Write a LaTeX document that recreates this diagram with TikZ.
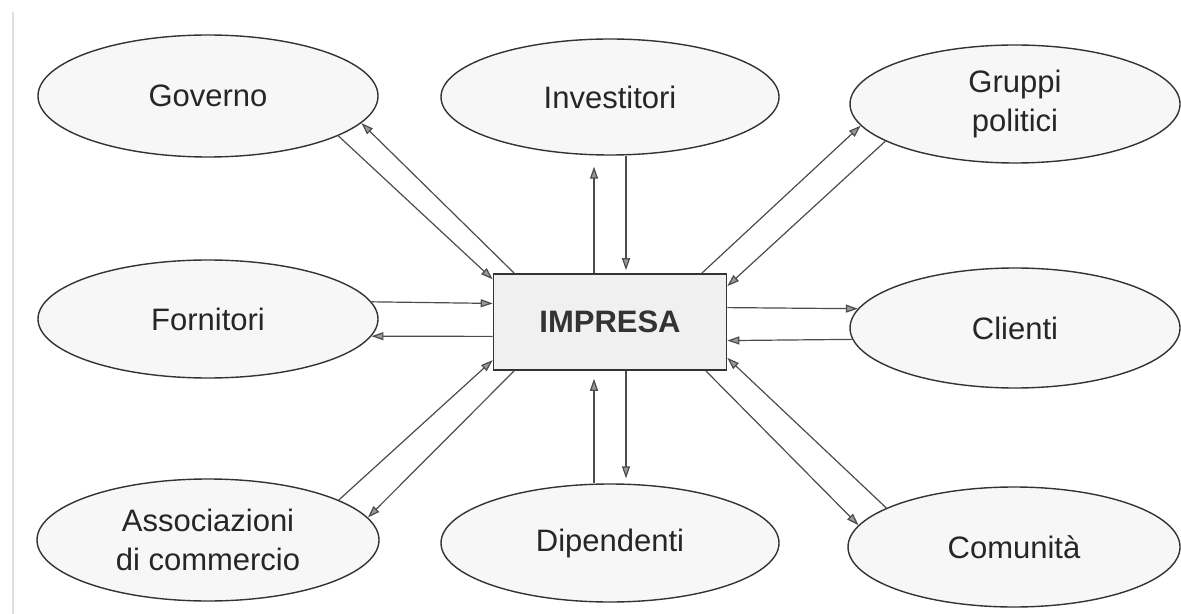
\documentclass[tikz,border=0pt]{standalone}
\usepackage{fontspec}
\setmainfont{Liberation Sans}
\usetikzlibrary{arrows.meta,shapes.geometric}
\begin{document}
\begin{tikzpicture}[x=0.5pt,y=-0.5pt,
  stake/.style={ellipse, draw=black!80, line width=0.7pt, fill=black!3,
    inner sep=0pt, align=center, text=black!85,
    font=\fontsize{15.5}{19.5}\selectfont},
  firm/.style={rectangle, draw=black!80, line width=0.8pt, fill=black!6,
    minimum width=116.5pt, minimum height=48pt, inner sep=0pt,
    font=\fontsize{15.5}{19}\selectfont\bfseries, text=black!80},
  flow/.style={draw=black!70, line width=0.6pt,
    -{Triangle[length=6pt,width=4pt,fill=black!40]}},
]
\useasboundingbox (0,0) rectangle (1181,614);

% page edge
\draw[black!12, line width=0.8pt] (13,12) -- (13,614);

% stakeholders around the firm
\node[stake, minimum width=170pt, minimum height=61pt] (gov)  at (208,96)   {Governo};
\node[stake, minimum width=169pt, minimum height=58pt] (inv)  at (610,97)   {Investitori};
\node[stake, minimum width=165pt, minimum height=59pt] (grp)  at (1015,104) {Gruppi\\politici};
\node[stake, minimum width=170pt, minimum height=59pt] (forn) at (208,319)  {Fornitori};
\node[stake, minimum width=165pt, minimum height=60pt] (cli)  at (1015,328) {Clienti};
\node[stake, minimum width=171pt, minimum height=61pt] (ass)  at (208,540)  {Associazioni\\di commercio};
\node[stake, minimum width=169pt, minimum height=59pt] (dip)  at (610,543)  {Dipendenti};
\node[stake, minimum width=166pt, minimum height=60pt] (com)  at (1014,547) {Comunità};

% the firm
\node[firm] (imp) at (610,322) {IMPRESA};

% two-way relations
\draw[flow] (gov.-17) -- (imp.160);
\draw[flow] (imp.153) -- (gov.-10);

\draw[flow, shorten >=5.5pt] ([xshift=-8pt]imp.north) -- ([xshift=-8pt]imp.north |- inv.south);
\draw[flow, shorten >=1.5pt] ([xshift=8pt]imp.north |- inv.south) -- ([xshift=8pt]imp.north);

\draw[flow] (imp.28) -- (grp.188);
\draw[flow] (grp.196) -- (imp.17);

\draw[flow] (forn.6) -- (imp.171);
\draw[flow] (imp.187) -- (forn.-6);

\draw[flow] (imp.7) -- (cli.173);
\draw[flow] (cli.184) -- (imp.-9);

\draw[flow] (ass.17) -- (imp.198);
\draw[flow] (imp.207) -- (ass.8);

\draw[flow, shorten >=4pt] ([xshift=-8pt]imp.south |- dip.north) -- ([xshift=-8pt]imp.south);
\draw[flow, shorten >=2.5pt] ([xshift=8pt]imp.south) -- ([xshift=8pt]imp.south |- dip.north);

\draw[flow] (imp.-27) -- (com.172);
\draw[flow] (com.163) -- (imp.-17);
\end{tikzpicture}
\end{document}
